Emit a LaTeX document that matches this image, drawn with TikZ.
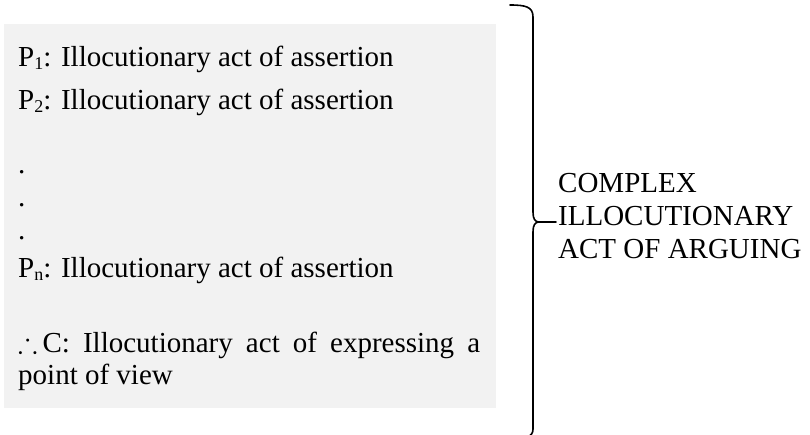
\documentclass[tikz,border=0pt]{standalone}
\usepackage{fontspec}
\setmainfont{Liberation Serif}
\usepackage{amssymb}
\definecolor{boxgray}{HTML}{F2F2F2}
\newcommand{\lowsub}[1]{\raisebox{-2.5pt}{\fontsize{18}{18}\selectfont #1}}
\begin{document}
\begin{tikzpicture}[x=1pt,y=-1pt,
  txt/.style={font=\fontsize{29}{33}\selectfont, inner sep=0pt, anchor=base west},
  bracepen/.style={line width=1.6pt, line cap=round, line join=round}]
\useasboundingbox (0,0) rectangle (810,435);
\clip (0,0) rectangle (810,435);
\fill[boxgray] (4,24) rectangle (496,408);
\node[txt] (p1) at (18,67) {P\lowsub{1}: Illocutionary act of assertion};
\node[txt] (p2) at (18,110) {P\lowsub{2}: Illocutionary act of assertion};
\node[txt] (d1) at (18,174) {.};
\node[txt] (d2) at (18,207) {.};
\node[txt] (d3) at (18,240) {.};
\node[txt] (pn) at (18,278) {P\lowsub{n}: Illocutionary act of assertion};
\node[txt] (c1) at (18,352) {\makebox[462pt][s]{$\therefore$\hspace{5pt}C: Illocutionary act of expressing a}};
\node[txt] (c2) at (18,384) {point of view};
\node[txt] (l1) at (558,193) {COMPLEX};
\node[txt] (l2) at (558,226) {ILLOCUTIONARY};
\node[txt] (l3) at (558,259) {ACT OF ARGUING};
\coordinate (tip) at (539,222);
\coordinate (tipend) at (556,222);
\draw[bracepen] (510,5) .. controls (526,5) and (533,7) .. (533,17)
  -- (533,212) .. controls (533,219) and (535,222) .. (tip)
  .. controls (535,222) and (533,225) .. (533,232)
  -- (533,429) .. controls (533,437) and (526,439) .. (510,439);
\draw[bracepen] (tip) -- (tipend);
\end{tikzpicture}
\end{document}
